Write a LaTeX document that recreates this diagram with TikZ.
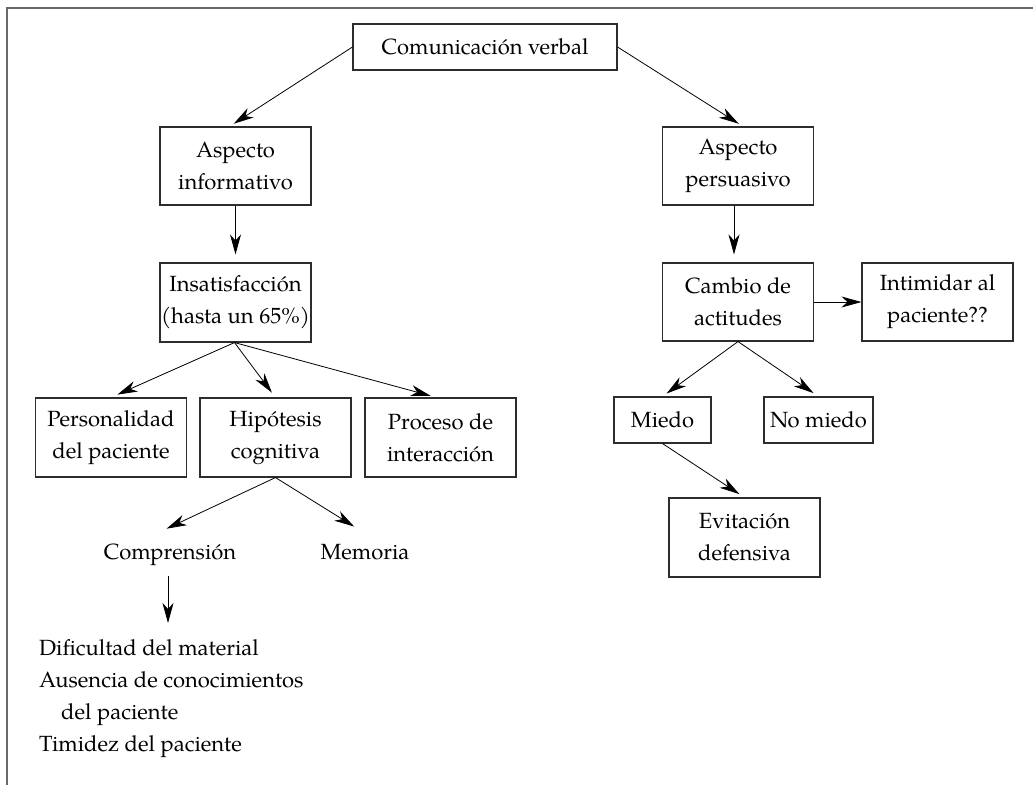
\documentclass[tikz,border=0pt]{standalone}
\usepackage{fontspec}
\setmainfont{TeX Gyre Pagella}
\usetikzlibrary{arrows.meta}
\definecolor{framecol}{RGB}{105,105,105}
\definecolor{boxcol}{RGB}{45,45,45}
\begin{document}
\begin{tikzpicture}[x=1pt,y=-1pt,
  every node/.style={font=\fontsize{22}{32}\selectfont},
  box/.style={draw=boxcol, line width=1.1pt, inner sep=0pt, align=center},
  wide/.style={box, minimum width=151pt, minimum height=78pt},
  small/.style={box, minimum height=46pt},
  plain/.style={inner xsep=2pt, inner ysep=12pt, text height=16pt, text depth=5pt},
  arr/.style={line width=0.8pt, -{Stealth[length=20pt, width=11pt, inset=6pt]}}
]
\useasboundingbox (0,0) rectangle (1033,785);
% outer frame, open on the right and at the bottom
\draw[framecol, line width=1.8pt] (7,785) -- (7,8) -- (1033,8);

% boxes
\node[small, minimum width=264pt] (cv) at (485,47) {Comunicaci\'on verbal};
\node[wide] (ai) at (235.5,166) {Aspecto\\informativo};
\node[wide] (ap) at (738,166) {Aspecto\\persuasivo};
\node[wide, minimum height=79pt] (ins) at (235.5,302.5) {Insatisfacci\'on\\(hasta un 65\%)};
\node[wide] (cam) at (738,302) {Cambio de\\actitudes};
\node[wide] (int) at (937.5,302) {Intimidar al\\paciente??};
\node[wide, minimum height=79pt] (per) at (111,437.5) {Personalidad\\del paciente};
\node[wide, minimum height=79pt] (hip) at (275.5,437.5) {Hip\'otesis\\cognitiva};
\node[wide, minimum height=79pt] (pro) at (440.5,437.5) {Proceso de\\interacci\'on};
\node[small, minimum width=97pt] (mie) at (662.5,420) {Miedo};
\node[small, minimum width=109pt] (nom) at (818.5,420) {No miedo};
\node[wide, minimum height=79pt] (evi) at (744.5,537.5) {Evitaci\'on\\defensiva};

% free-standing labels
\node[plain, anchor=base] (comp) at (170,559) {Comprensi\'on};
\node[plain, anchor=base] (mem) at (365,559) {Memoria};
\node[inner sep=0pt, anchor=north west, align=left] (lst) at (39,639)
  {Dificultad del material\\Ausencia de conocimientos\\\hspace*{22pt}del paciente\\Timidez del paciente};

% connectors
\draw[arr, shorten >=5pt] (cv.west) -- ([xshift=-6pt]ai.north);
\draw[arr, shorten >=5pt] (cv.east) -- ([xshift=5pt]ap.north);
\draw[arr, shorten >=8pt] (ai.south) -- (ins.north);
\draw[arr, shorten >=8pt] ([xshift=-4pt]ap.south) -- ([xshift=-4pt]cam.north);
\draw[arr, shorten >=7pt] ([xshift=-1pt]ins.south) -- (per.north);
\draw[arr, shorten >=6pt] ([xshift=-1pt]ins.south) -- (hip.north);
\draw[arr, shorten >=6pt] ([xshift=-1pt]ins.south) -- ([xshift=-4pt]pro.north);
\draw[arr, shorten >=5pt] (hip.south) -- ([xshift=-8pt]comp.north);
\draw[arr, shorten >=8pt] (hip.south) -- ([xshift=-4pt]mem.north);
\draw[arr, shorten >=16pt] ([xshift=-2pt]comp.south) -- ([xshift=-2pt]comp.south |- lst.north);
\draw[arr] (cam.east) -- (int.west);
\draw[arr, shorten >=5pt] (cam.south) -- (mie.north);
\draw[arr, shorten >=6pt] (cam.south) -- (nom.north);
\draw[arr, shorten >=6pt] (mie.south) -- (evi.north);
\end{tikzpicture}
\end{document}
